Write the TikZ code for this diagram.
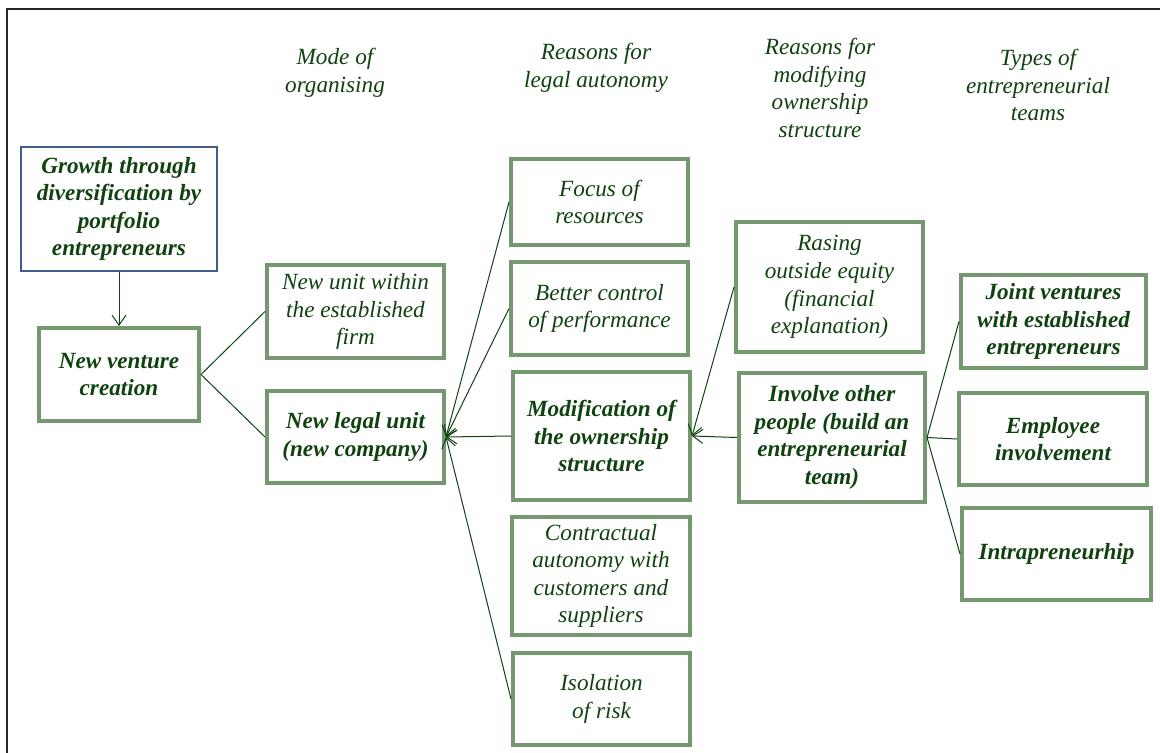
\documentclass[tikz,border=0pt]{standalone}
\usepackage{fontspec}
\setmainfont{Liberation Serif}
\usetikzlibrary{arrows.meta}
\definecolor{txtgreen}{RGB}{16,66,16}
\definecolor{boxgreen}{RGB}{118,152,112}
\definecolor{boxblue}{RGB}{62,92,140}
\tikzset{
  box/.style={draw=boxgreen, line width=2pt, align=center, text=txtgreen, inner sep=2pt,
    font=\fontsize{11.6}{13.8}\selectfont\itshape},
  boldbox/.style={box, font=\fontsize{11.6}{13.8}\selectfont\bfseries\itshape},
  head/.style={align=center, text=txtgreen, font=\fontsize{11.6}{13.9}\selectfont\itshape},
  conn/.style={draw=txtgreen, line width=0.5pt},
  arr/.style={conn, -{Straight Barb[length=5pt,width=7pt]}}
}
\begin{document}
\begin{tikzpicture}[x=0.5pt,y=-0.5pt]
\useasboundingbox (0,0) rectangle (1160,753);
\draw[line width=0.8pt, black!85] (7,753) -- (7,9) -- (1160,9);
% column heads
\node[head] (h1) at (335,73) {Mode of\\organising};
\node[head] (h2) at (596,68) {Reasons for\\legal autonomy};
\node[head] (h3) at (820,88) {Reasons for\\modifying\\ownership\\structure};
\node[head] (h4) at (1038,85) {Types of\\entrepreneurial\\teams};
% boxes
\node[boldbox, draw=boxblue, line width=0.75pt, minimum width=98pt, minimum height=62pt] (growth) at (119,209) {Growth through\\diversification by\\portfolio\\entrepreneurs};
\node[boldbox, minimum width=80pt, minimum height=46.5pt] (venture) at (119,374.5) {New venture\\creation};
\node[box, minimum width=88.5pt, minimum height=46.5pt] (unit) at (355.5,311.5) {New unit within\\the established\\firm};
\node[boldbox, minimum width=88.5pt, minimum height=46pt] (legal) at (355.5,437) {New legal unit\\(new company)};
\node[box, minimum width=88.5pt, minimum height=43pt] (focus) at (599.5,202) {Focus of\\resources};
\node[box, minimum width=88.5pt, minimum height=46.5pt] (control) at (599.5,308.5) {Better control\\of performance};
\node[boldbox, minimum width=88.5pt, minimum height=64pt] (modif) at (601.5,436) {Modification of\\the ownership\\structure};
\node[box, minimum width=89pt, minimum height=59pt] (contract) at (601,576) {Contractual\\autonomy with\\customers and\\suppliers};
\node[box, minimum width=88.5pt, minimum height=46pt] (risk) at (601.5,699) {Isolation\\of risk};
\node[box, minimum width=93.5pt, minimum height=65pt] (equity) at (829.5,287) {Rasing\\outside equity\\(financial\\explanation)};
\node[boldbox, minimum width=93pt, minimum height=64.5pt] (involve) at (832,437.5) {Involve other\\people (build an\\entrepreneurial\\team)};
\node[boldbox, minimum width=92.5pt, minimum height=46.5pt] (joint) at (1053.5,321.5) {Joint ventures\\with established\\entrepreneurs};
\node[boldbox, minimum width=94pt, minimum height=46pt] (employee) at (1053,439) {Employee\\involvement};
\node[boldbox, minimum width=94.5pt, minimum height=46pt] (intra) at (1056.5,554) {Intrapreneurhip};
% connectors
\draw[arr] (growth) -- (venture);
\draw[conn] (venture.east) -- (unit.west);
\draw[conn] (venture.east) -- (legal.west);
\draw[arr] (focus.west) -- (legal.east);
\draw[arr] (control.west) -- (legal.east);
\draw[arr] (modif.west) -- (legal.east);
\draw[arr] (risk.west) -- (legal.east);
\draw[arr] (equity.west) -- (modif.east);
\draw[arr] (involve.west) -- (modif.east);
\draw[conn] (involve.east) -- (joint.west);
\draw[conn] (involve.east) -- (employee.west);
\draw[conn] (involve.east) -- (intra.west);
\end{tikzpicture}
\end{document}
